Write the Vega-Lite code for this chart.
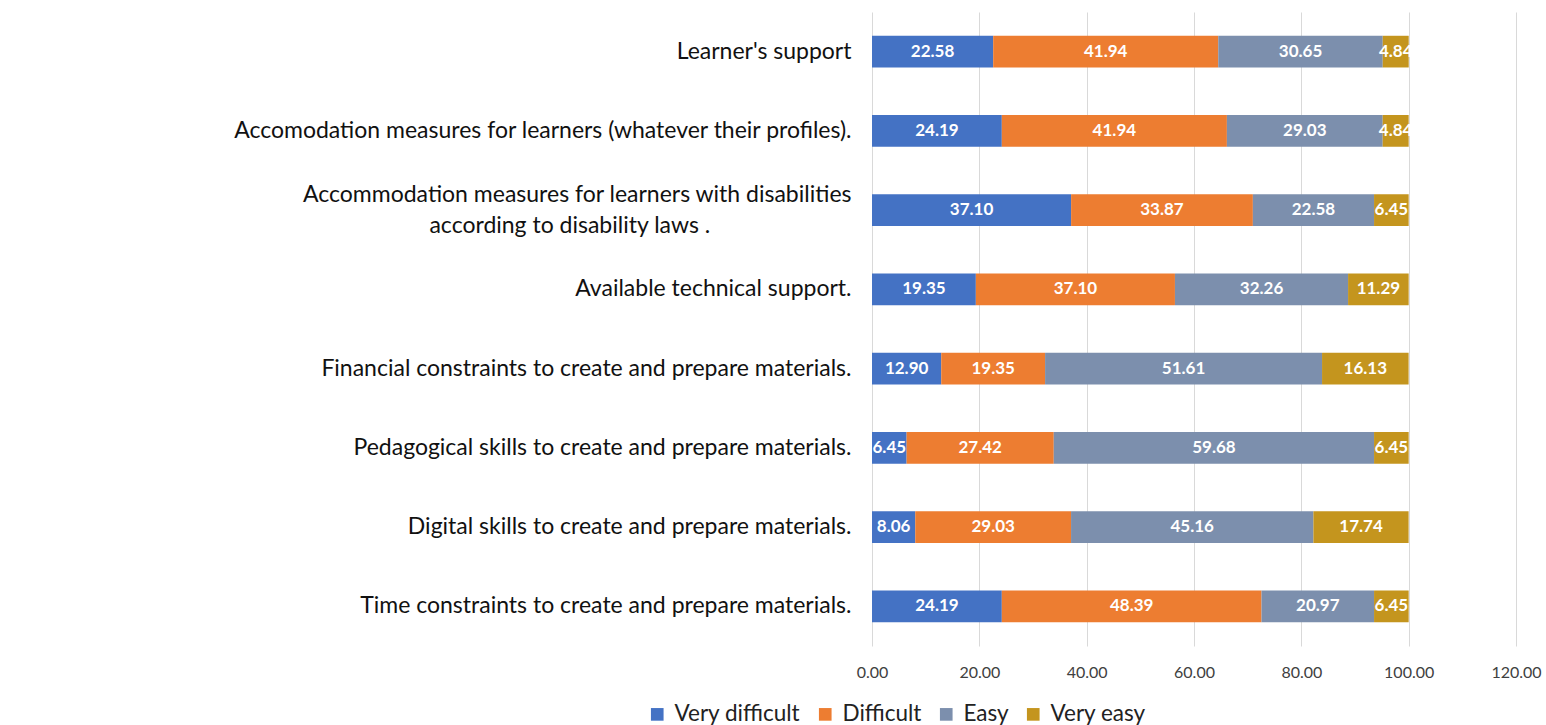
{
  "$schema": "https://vega.github.io/schema/vega-lite/v6.json",
  "autosize": {"type": "none"},
  "padding": {"left": 872, "top": 12, "right": 30, "bottom": 79},
  "width": 644,
  "height": 634,
  "background": "white",
  "config": {"view": {"stroke": null}, "font": "Lato"},
  "data": {"values": [
    {"item": "Learner's support", "level": "Very difficult", "value": 22.58},
    {"item": "Learner's support", "level": "Difficult", "value": 41.94},
    {"item": "Learner's support", "level": "Easy", "value": 30.65},
    {"item": "Learner's support", "level": "Very easy", "value": 4.84},
    {"item": "Accomodation measures for learners (whatever their profiles).", "level": "Very difficult", "value": 24.19},
    {"item": "Accomodation measures for learners (whatever their profiles).", "level": "Difficult", "value": 41.94},
    {"item": "Accomodation measures for learners (whatever their profiles).", "level": "Easy", "value": 29.03},
    {"item": "Accomodation measures for learners (whatever their profiles).", "level": "Very easy", "value": 4.84},
    {"item": "Accommodation measures for learners with disabilities according to disability laws .", "level": "Very difficult", "value": 37.10},
    {"item": "Accommodation measures for learners with disabilities according to disability laws .", "level": "Difficult", "value": 33.87},
    {"item": "Accommodation measures for learners with disabilities according to disability laws .", "level": "Easy", "value": 22.58},
    {"item": "Accommodation measures for learners with disabilities according to disability laws .", "level": "Very easy", "value": 6.45},
    {"item": "Available technical support.", "level": "Very difficult", "value": 19.35},
    {"item": "Available technical support.", "level": "Difficult", "value": 37.10},
    {"item": "Available technical support.", "level": "Easy", "value": 32.26},
    {"item": "Available technical support.", "level": "Very easy", "value": 11.29},
    {"item": "Financial constraints to create and prepare materials.", "level": "Very difficult", "value": 12.90},
    {"item": "Financial constraints to create and prepare materials.", "level": "Difficult", "value": 19.35},
    {"item": "Financial constraints to create and prepare materials.", "level": "Easy", "value": 51.61},
    {"item": "Financial constraints to create and prepare materials.", "level": "Very easy", "value": 16.13},
    {"item": "Pedagogical skills to create and prepare materials.", "level": "Very difficult", "value": 6.45},
    {"item": "Pedagogical skills to create and prepare materials.", "level": "Difficult", "value": 27.42},
    {"item": "Pedagogical skills to create and prepare materials.", "level": "Easy", "value": 59.68},
    {"item": "Pedagogical skills to create and prepare materials.", "level": "Very easy", "value": 6.45},
    {"item": "Digital skills to create and prepare materials.", "level": "Very difficult", "value": 8.06},
    {"item": "Digital skills to create and prepare materials.", "level": "Difficult", "value": 29.03},
    {"item": "Digital skills to create and prepare materials.", "level": "Easy", "value": 45.16},
    {"item": "Digital skills to create and prepare materials.", "level": "Very easy", "value": 17.74},
    {"item": "Time constraints to create and prepare materials.", "level": "Very difficult", "value": 24.19},
    {"item": "Time constraints to create and prepare materials.", "level": "Difficult", "value": 48.39},
    {"item": "Time constraints to create and prepare materials.", "level": "Easy", "value": 20.97},
    {"item": "Time constraints to create and prepare materials.", "level": "Very easy", "value": 6.45}
  ]},
  "transform": [
    {"calculate": "indexof(['Very difficult','Difficult','Easy','Very easy'], datum.level)", "as": "ord"},
    {"stack": "value", "groupby": ["item"], "sort": [{"field": "ord", "order": "ascending"}], "as": ["v0", "v1"]},
    {"calculate": "(datum.v0 + datum.v1) / 2", "as": "mid"}
  ],
  "encoding": {
    "y": {
      "field": "item", "type": "nominal", "sort": null,
      "scale": {"paddingInner": 0.6, "paddingOuter": 0.3},
      "axis": {
        "title": null, "domain": false, "ticks": false, "grid": false,
        "labelFont": "Lato", "labelFontSize": 23, "labelColor": "#111111",
        "labelPadding": 21, "labelLimit": 900, "labelLineHeight": 31,
        "labelOffset": {"condition": {"test": "indexof(datum.label, 'disabilities according') >= 0", "value": -15}, "value": 0},
        "labelExpr": "indexof(datum.label, 'disabilities according') >= 0 ? ['Accommodation measures for learners with disabilities', 'according to disability laws .\u00a0\u00a0\u00a0\u00a0\u00a0\u00a0\u00a0\u00a0\u00a0\u00a0\u00a0\u00a0\u00a0\u00a0\u00a0\u00a0\u00a0\u00a0\u00a0\u00a0\u00a0\u00a0\u00a0\u00a0\u200b'] : datum.label"
      }
    }
  },
  "layer": [
    {
      "mark": {"type": "bar"},
      "encoding": {
        "x": {
          "field": "v0", "type": "quantitative",
          "scale": {"domain": [0, 120], "nice": false},
          "axis": {
            "title": null, "values": [0, 20, 40, 60, 80, 100, 120], "format": ".2f",
            "domain": false, "ticks": false, "grid": true, "gridColor": "#d9d9d9", "gridWidth": 1,
            "labelFlush": false,
            "labelFont": "Lato", "labelFontSize": 16, "labelColor": "#404040", "labelPadding": 18
          }
        },
        "x2": {"field": "v1"},
        "color": {
          "field": "level", "type": "nominal",
          "scale": {"domain": ["Very difficult", "Difficult", "Easy", "Very easy"], "range": ["#4472C4", "#ED7D31", "#7C8FAD", "#C4951E"]},
          "legend": {
            "title": null, "orient": "none", "direction": "horizontal",
            "legendX": -226, "legendY": 691,
            "symbolType": "square", "symbolSize": 160, "symbolStrokeWidth": 0,
            "labelFont": "Lato", "labelFontSize": 22.5, "labelColor": "#222222",
            "columnPadding": 13, "labelOffset": 6
          }
        }
      }
    },
    {
      "mark": {"type": "text", "color": "white", "fontSize": 17, "fontWeight": "bold", "font": "Lato"},
      "encoding": {
        "x": {"field": "mid", "type": "quantitative"},
        "text": {"field": "value", "type": "quantitative", "format": ".2f"}
      }
    }
  ]
}
